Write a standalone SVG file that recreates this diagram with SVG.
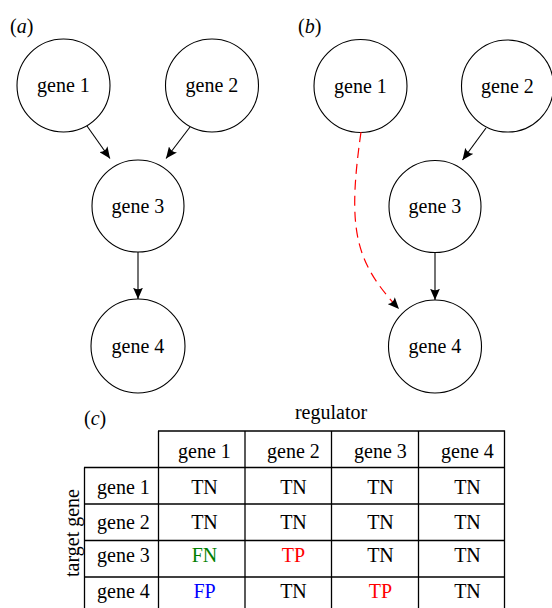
<svg xmlns="http://www.w3.org/2000/svg" width="552" height="608" viewBox="0 0 552 608">
<style>
text{font-family:"Liberation Serif","Times New Roman",serif;font-size:20px;fill:#000}
.node circle{fill:#fff;stroke:#000;stroke-width:1.1}
.node text,.c{text-anchor:middle}
.edge{fill:none;stroke:#000;stroke-width:1.1}
.fp{fill:none;stroke:#f00;stroke-width:1.2;stroke-dasharray:10 6}
.grid line{stroke:#000;stroke-width:1.3}
</style>
<defs>
<marker id="ah" markerUnits="userSpaceOnUse" markerWidth="12" markerHeight="10" viewBox="0 0 12 10" refX="11.5" refY="5" orient="auto">
<path d="M11.5,5 L0,0 Q3.5,5 0,10 Z" fill="#000"/>
</marker>
</defs>
<text x="10" y="33">(<tspan font-style="italic">a</tspan>)</text>
<text x="298" y="33">(<tspan font-style="italic">b</tspan>)</text>
<g id="a-gene1" class="node"><circle cx="63.5" cy="85.5" r="46.5"/><text x="63.5" y="92">gene 1</text></g>
<g id="a-gene2" class="node"><circle cx="212" cy="85.5" r="46.5"/><text x="212" y="92">gene 2</text></g>
<g id="a-gene3" class="node"><circle cx="138" cy="206" r="46"/><text x="138" y="212.5">gene 3</text></g>
<g id="a-gene4" class="node"><circle cx="138" cy="346" r="47"/><text x="138" y="352.5">gene 4</text></g>
<g id="b-gene1" class="node"><circle cx="360.5" cy="86" r="46.5"/><text x="360.5" y="92.5">gene 1</text></g>
<g id="b-gene2" class="node"><circle cx="507.5" cy="86" r="46"/><text x="507.5" y="92.5">gene 2</text></g>
<g id="b-gene3" class="node"><circle cx="435" cy="206.5" r="46"/><text x="435" y="213">gene 3</text></g>
<g id="b-gene4" class="node"><circle cx="435" cy="346.5" r="46.5"/><text x="435" y="353">gene 4</text></g>
<g id="connectors">
<line class="edge" x1="87" y1="126" x2="110" y2="158.5" marker-end="url(#ah)"/>
<line class="edge" x1="190" y1="127" x2="166" y2="158.5" marker-end="url(#ah)"/>
<line class="edge" x1="138" y1="252" x2="138" y2="299" marker-end="url(#ah)"/>
<line class="edge" x1="486" y1="128" x2="462.5" y2="160" marker-end="url(#ah)"/>
<line class="edge" x1="435" y1="252.5" x2="435" y2="300" marker-end="url(#ah)"/>
<path class="fp" d="M361,132 C347,230 355,262 399,309" marker-end="url(#ah)"/>
</g>
<g id="table">
<text x="84" y="425">(<tspan font-style="italic">c</tspan>)</text>
<text class="c" x="331" y="419">regulator</text>
<text class="c" transform="translate(79,533) rotate(-90)">target gene</text>
<g class="grid">
<line x1="158" y1="431" x2="504.5" y2="431"/>
<line x1="84" y1="467.5" x2="504.5" y2="467.5"/>
<line x1="84" y1="504" x2="504.5" y2="504"/>
<line x1="84" y1="540.5" x2="504.5" y2="540.5"/>
<line x1="84" y1="577" x2="504.5" y2="577"/>
<line x1="84.5" y1="467.5" x2="84.5" y2="614"/>
<line x1="158.5" y1="431" x2="158.5" y2="614"/>
<line x1="245" y1="431" x2="245" y2="614"/>
<line x1="331.5" y1="431" x2="331.5" y2="614"/>
<line x1="418.5" y1="431" x2="418.5" y2="614"/>
<line x1="504.5" y1="430.4" x2="504.5" y2="614"/>
</g>
<g class="c">
<text class="c" x="204.5" y="458">gene 1</text>
<text class="c" x="293.5" y="458">gene 2</text>
<text class="c" x="380.5" y="458">gene 3</text>
<text class="c" x="467.5" y="458">gene 4</text>
<text class="c" x="123.5" y="494">gene 1</text>
<text class="c" x="123.5" y="528.5">gene 2</text>
<text class="c" x="123.5" y="562">gene 3</text>
<text class="c" x="123.5" y="598">gene 4</text>
<text class="c" x="204.5" y="494">TN</text>
<text class="c" x="293.5" y="494">TN</text>
<text class="c" x="380.5" y="494">TN</text>
<text class="c" x="467.5" y="494">TN</text>
<text class="c" x="204.5" y="528.5">TN</text>
<text class="c" x="293.5" y="528.5">TN</text>
<text class="c" x="380.5" y="528.5">TN</text>
<text class="c" x="467.5" y="528.5">TN</text>
<text class="c" x="204.5" y="562" style="fill:#008000">FN</text>
<text class="c" x="293.5" y="562" style="fill:#f00">TP</text>
<text class="c" x="380.5" y="562">TN</text>
<text class="c" x="467.5" y="562">TN</text>
<text class="c" x="204.5" y="598" style="fill:#00f">FP</text>
<text class="c" x="293.5" y="598">TN</text>
<text class="c" x="380.5" y="598" style="fill:#f00">TP</text>
<text class="c" x="467.5" y="598">TN</text>
</g>
</g>
</svg>
